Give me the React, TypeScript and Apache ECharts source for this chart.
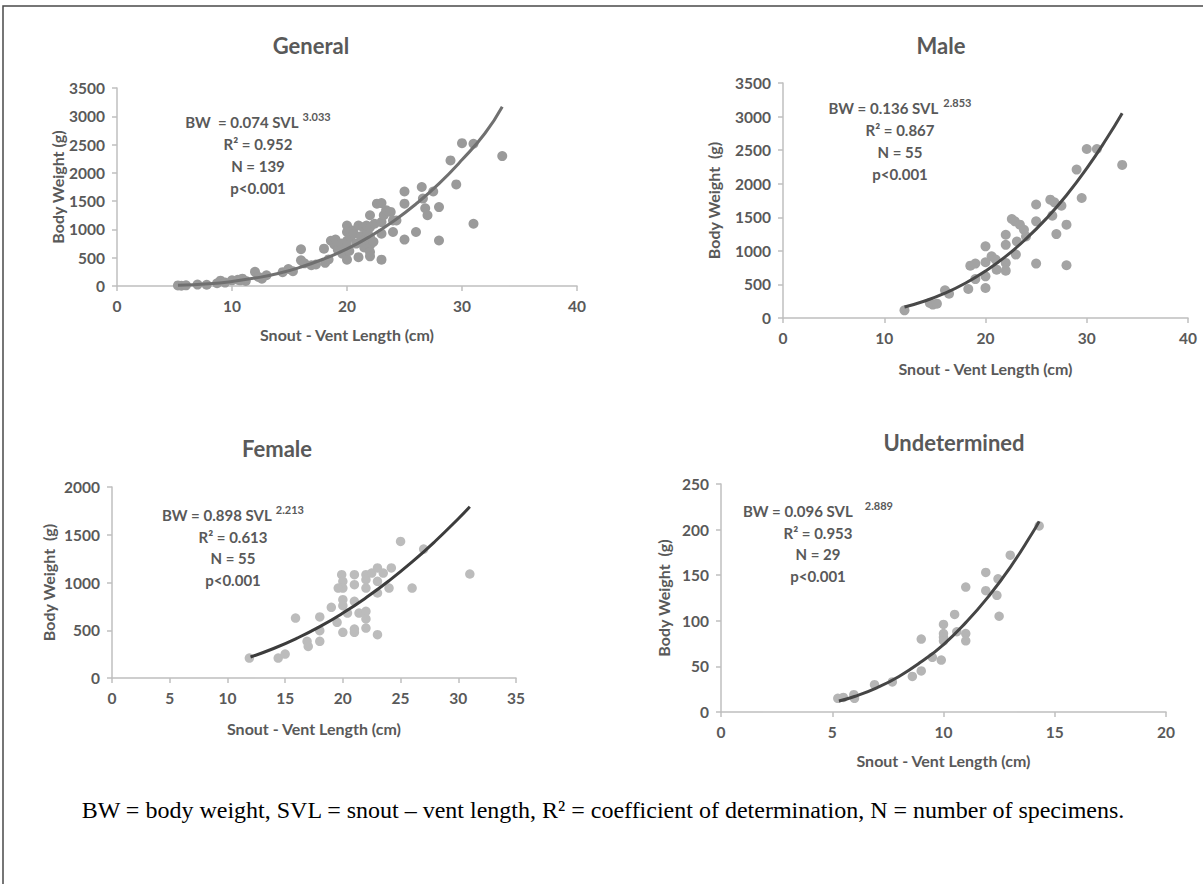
import React, { useEffect, useRef } from "react";
import * as echarts from "echarts";

// ---------- DATA ----------
const generalPoints: [number, number][] = [
  [5.3, 10], [5.6, 5], [6.0, 12], [7.0, 25], [7.8, 22], [8.7, 48], [9.0, 95], [9.4, 60], [10.0, 100],
  [10.5, 110], [10.9, 130], [11.2, 90], [10.7, 100], [12.0, 250], [12.3, 160], [12.6, 130], [13.0, 190],
  [14.4, 245], [14.9, 300], [15.3, 260], [16.0, 650], [16.0, 454], [16.3, 400], [16.9, 366], [17.3, 380],
  [18.0, 660], [18.1, 410], [18.4, 470], [18.6, 800], [18.9, 735], [19.0, 820], [19.6, 570], [19.9, 600],
  [19.2, 640], [19.5, 750], [20.0, 1070], [20.0, 955], [20.0, 800], [20.0, 690], [20.0, 465], [20.3, 870],
  [20.2, 620], [20.5, 980], [20.6, 925], [20.8, 750], [21.0, 510], [21.0, 1070], [21.2, 880], [21.4, 1040],
  [21.4, 800], [21.5, 680], [21.7, 1070], [21.8, 950], [22.0, 1250], [22.0, 1040], [22.0, 865], [22.0, 720],
  [22.0, 600], [22.0, 525], [22.3, 780], [22.4, 1100], [22.6, 1455], [23.0, 1465], [23.0, 1130], [23.0, 925],
  [23.0, 465], [23.2, 1250], [23.4, 1340], [23.8, 1310], [24.0, 1160], [24.0, 955], [24.3, 1160],
  [25.0, 1670], [25.0, 1455], [25.0, 820], [26.0, 955], [26.5, 1750], [26.6, 1545], [26.8, 1374],
  [27.0, 1250], [27.5, 1670], [28.0, 1395], [28.0, 805], [29.0, 2220], [29.5, 1795], [30.0, 2525],
  [31.0, 2515], [31.0, 1100], [33.5, 2297],
];
const generalCurve: [number, number][] = [
  [5.3, 12], [8, 40], [10, 80], [12, 140], [14, 220], [16, 335], [18, 480], [20, 655], [22, 875],
  [24, 1140], [26, 1450], [28, 1810], [30, 2230], [32, 2700], [33.5, 3170],
];

const malePoints: [number, number][] = [
  [12.0, 114], [14.5, 223], [14.8, 200], [15.2, 213], [16.0, 412], [16.4, 362], [18.3, 432], [18.5, 780],
  [19.0, 810], [19.0, 580], [20.0, 1067], [20.0, 830], [20.0, 620], [20.0, 447], [20.6, 918], [21.0, 870],
  [21.1, 720], [22.0, 1240], [22.0, 1090], [22.0, 820], [22.0, 705], [22.6, 1475], [22.9, 1440], [23.1, 1140],
  [23.0, 945], [23.4, 1390], [23.8, 1315], [24.0, 1215], [25.0, 1690], [25.0, 1440], [25.0, 810],
  [26.4, 1763], [26.8, 1723], [26.6, 1524], [27.0, 1250], [27.5, 1673], [28.0, 1390], [28.0, 785],
  [29.0, 2210], [29.5, 1787], [30.0, 2517], [31.0, 2517], [33.5, 2280],
];
const maleCurve: [number, number][] = [
  [12, 163], [14, 253], [16, 370], [18, 518], [20, 700], [22, 918], [24, 1178], [26, 1480], [28, 1828],
  [30, 2228], [32, 2680], [33.5, 3050],
];

const femalePoints: [number, number][] = [
  [11.9, 209], [14.4, 209], [15.0, 251], [15.9, 628], [16.9, 384], [17.0, 331], [18.0, 639], [18.0, 496],
  [18.0, 384], [19.0, 740], [19.5, 583], [19.9, 1082], [20.0, 1012], [20.0, 942], [19.6, 942], [20.0, 820],
  [20.0, 757], [20.0, 478], [20.4, 680], [21.0, 1082], [21.0, 977], [21.0, 803], [21.0, 513], [21.0, 478],
  [21.4, 680], [22.0, 1082], [22.0, 1030], [22.0, 942], [22.0, 698], [22.0, 618], [22.0, 523], [22.5, 1099],
  [23.0, 1152], [23.0, 1012], [23.0, 890], [23.0, 454], [23.5, 1099], [24.2, 1152], [24.0, 942],
  [25.0, 1430], [26.0, 942], [27.0, 1350], [31.0, 1089],
];
const femaleCurve: [number, number][] = [
  [12, 220], [14, 309], [16, 415], [18, 538], [20, 680], [22, 840], [24, 1018], [26, 1215], [28, 1432],
  [30, 1668], [31, 1793],
];

const undPoints: [number, number][] = [
  [5.25, 15], [5.5, 16], [6.0, 15], [5.97, 19], [6.9, 30], [7.7, 33], [8.6, 39], [9.0, 45], [9.0, 80],
  [9.5, 60], [9.9, 57], [10.0, 96], [10.0, 86], [10.0, 82], [10.0, 78], [10.5, 107], [10.6, 88], [11.0, 137],
  [11.0, 86], [11.0, 78], [11.9, 153], [11.9, 133], [12.4, 128], [12.45, 146], [12.5, 105], [13.0, 172],
  [14.3, 204],
];
const undCurve: [number, number][] = [
  [5.3, 12], [6, 17], [7, 26.5], [8, 39], [9, 55], [10, 74], [11, 98], [12, 126], [13, 158.6], [14, 196.5],
  [14.3, 209],
];

const panelTitles = ["General", "Male", "Female", "Undetermined"];
const xNames = ["Snout - Vent Length (cm)", "Snout - Vent Length (cm)", "Snout - Vent Length (cm)", "Snout - Vent Length (cm)"];
const yNames = ["Body Weight (g)", "Body Weight  (g)", "Body Weight  (g)", "Body Weight  (g)"];
const xMax = [40, 40, 35, 20];
const xStep = [10, 10, 5, 5];
const yMax = [3500, 3500, 2000, 250];
const yStep = [500, 500, 500, 50];
const eqMain = ["BW  = 0.074 SVL", "BW = 0.136 SVL", "BW = 0.898 SVL", "BW = 0.096 SVL"];
const eqExp = ["3.033", "2.853", "2.213", "2.889"];
const r2Text = ["R\u00b2 = 0.952", "R\u00b2 = 0.867", "R\u00b2 = 0.613", "R\u00b2 = 0.953"];
const nText = ["N = 139", "N = 55", "N = 55", "N = 29"];
const pText = ["p<0.001", "p<0.001", "p<0.001", "p<0.001"];
const captionText =
  "BW = body weight, SVL = snout \u2013 vent length, R\u00b2 = coefficient of determination, N = number of specimens.";

// ---------- LAYOUT / STYLE ----------
const FONT = "Lato";
const TXT = "#595959";
const AX = "#bfbfbf";
const grids = [
  { left: 117, top: 88, width: 460, height: 198 },
  { left: 783, top: 83, width: 405, height: 235 },
  { left: 112, top: 487, width: 404, height: 191 },
  { left: 721, top: 484, width: 445, height: 228 },
];
const yNameGap = [52, 62, 56, 50];
const xNameGap = [40, 42, 42, 40];
const titlePos = [
  [311, 45],
  [941, 45],
  [277, 448],
  [954, 442],
];
const eqPos = [
  { cx: 258, y: 122, dy: 22, gap: 4 },
  { cx: 900, y: 108, dy: 22, gap: 5 },
  { cx: 233, y: 515, dy: 21.5, gap: 4 },
  { cx: 818, y: 511, dy: 21.5, gap: 12 },
];
const pointColors = ["#9a9a9a", "#a3a3a3", "#bcbcbc", "#b5b5b5"];
const curveColors = ["#707070", "#484848", "#3c3c3c", "#454545"];
const pointSizes = [10, 10, 9.5, 9.5];

function measure(text: string, font: string): number {
  const c = document.createElement("canvas").getContext("2d");
  if (!c) return text.length * 7;
  c.font = font;
  return c.measureText(text).width;
}

export default function App() {
  const ref = useRef<HTMLDivElement>(null);
  useEffect(() => {
    if (!ref.current) return;
    const chart = echarts.init(ref.current, undefined, { renderer: "svg" });
    const points = [generalPoints, malePoints, femalePoints, undPoints];
    const curves = [generalCurve, maleCurve, femaleCurve, undCurve];

    const labelStyle = { color: TXT, fontFamily: FONT, fontSize: 15.5, fontWeight: "bold" as const };
    const nameStyle = { color: TXT, fontFamily: FONT, fontSize: 16, fontWeight: "bold" as const };
    const fmt = (v: number) => String(v);

    const xAxis = grids.map((_, i) => ({
      type: "value",
      gridIndex: i,
      min: 0,
      max: xMax[i],
      interval: xStep[i],
      splitLine: { show: false },
      axisLine: { show: true, onZero: false, lineStyle: { color: AX, width: 1.5 } },
      axisTick: { show: true, length: 5, lineStyle: { color: AX, width: 1.5 } },
      axisLabel: { ...labelStyle, margin: 12, formatter: fmt },
      name: xNames[i],
      nameLocation: "middle",
      nameGap: xNameGap[i],
      nameTextStyle: { ...nameStyle },
    }));
    const yAxis = grids.map((_, i) => ({
      type: "value",
      gridIndex: i,
      min: 0,
      max: yMax[i],
      interval: yStep[i],
      splitLine: { show: false },
      axisLine: { show: true, onZero: false, lineStyle: { color: AX, width: 1.5 } },
      axisTick: { show: true, length: 5, lineStyle: { color: AX, width: 1.5 } },
      axisLabel: { ...labelStyle, margin: 12, formatter: fmt },
      name: yNames[i],
      nameLocation: "middle",
      nameGap: yNameGap[i],
      nameRotate: 90,
      nameTextStyle: { ...nameStyle },
    }));

    const series: any[] = [];
    grids.forEach((_, i) => {
      series.push({
        type: "scatter",
        xAxisIndex: i,
        yAxisIndex: i,
        data: points[i],
        symbol: "circle",
        symbolSize: pointSizes[i],
        itemStyle: { color: pointColors[i], opacity: 1 },
        z: 2,
      });
      series.push({
        type: "line",
        xAxisIndex: i,
        yAxisIndex: i,
        data: curves[i],
        smooth: true,
        symbol: "none",
        showSymbol: false,
        lineStyle: { color: curveColors[i], width: 3 },
        z: 3,
      });
    });

    const graphics: any[] = [
      {
        type: "rect",
        shape: { x: 3, y: 6, width: 1240, height: 920 },
        style: { fill: "none", stroke: "#4a4a4a", lineWidth: 1.5 },
        silent: true,
      },
    ];
    panelTitles.forEach((t, i) => {
      graphics.push({
        type: "text",
        x: titlePos[i][0],
        y: titlePos[i][1],
        style: {
          text: t,
          fill: TXT,
          font: `bold 22px ${FONT}`,
          textAlign: "center",
          textVerticalAlign: "middle",
        },
      });
    });
    const mainFont = `bold 15px ${FONT}`;
    const supFont = `bold 11px ${FONT}`;
    eqPos.forEach((p, i) => {
      const wMain = measure(eqMain[i], mainFont);
      const wSup = measure(eqExp[i], supFont);
      const start = p.cx - (wMain + p.gap + wSup) / 2;
      graphics.push({
        type: "text",
        x: start,
        y: p.y,
        style: { text: eqMain[i], fill: TXT, font: mainFont, textAlign: "left", textVerticalAlign: "middle" },
      });
      graphics.push({
        type: "text",
        x: start + wMain + p.gap,
        y: p.y - 6,
        style: { text: eqExp[i], fill: TXT, font: supFont, textAlign: "left", textVerticalAlign: "middle" },
      });
      [r2Text[i], nText[i], pText[i]].forEach((s, k) => {
        graphics.push({
          type: "text",
          x: p.cx,
          y: p.y + p.dy * (k + 1),
          style: { text: s, fill: TXT, font: mainFont, textAlign: "center", textVerticalAlign: "middle" },
        });
      });
    });
    graphics.push({
      type: "text",
      x: 603,
      y: 810,
      style: {
        text: captionText,
        fill: "#000000",
        font: `24px "Liberation Serif", "Times New Roman", serif`,
        textAlign: "center",
        textVerticalAlign: "middle",
      },
    });

    chart.setOption({
      animation: false,
      backgroundColor: "#ffffff",
      grid: grids.map((g) => ({ ...g, containLabel: false })),
      xAxis,
      yAxis,
      series,
      graphic: graphics,
    });
    return () => chart.dispose();
  }, []);
  return (
    <div
      ref={ref}
      style={{ position: "absolute", left: 0, top: 0, width: 1203, height: 884, background: "#fff" }}
    />
  );
}
